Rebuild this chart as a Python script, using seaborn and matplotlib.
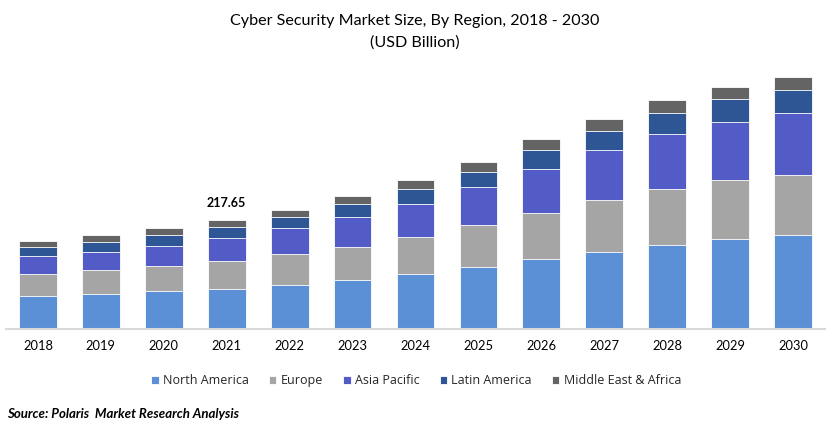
import numpy as np
import pandas as pd
import matplotlib
matplotlib.use("Agg")
import matplotlib.pyplot as plt
import seaborn as sns

# data (USD Billion)
years = ['2018', '2019', '2020', '2021', '2022', '2023', '2024',
         '2025', '2026', '2027', '2028', '2029', '2030']
north_america = [65.4, 69.4, 75.4, 80.85, 88.0, 98.0, 110.0, 124.0, 139.4, 154.6, 168.0, 180.0, 188.0]
europe = [44.6, 48.6, 50.6, 55.4, 62.0, 66.6, 74.0, 84.0, 93.2, 103.4, 112.0, 117.4, 120.6]
asia_pacific = [36.6, 36.6, 40.6, 46.0, 52.0, 58.8, 66.0, 76.0, 88.0, 100.0, 109.4, 117.2, 123.4]
latin_america = [17.4, 19.4, 20.6, 21.4, 22.6, 26.6, 29.4, 30.6, 37.4, 38.6, 42.6, 44.8, 46.6]
mea = [12.0, 14.0, 14.0, 14.0, 14.0, 16.0, 18.0, 19.4, 21.4, 23.4, 25.4, 25.2, 26.0]

regions = ['North America', 'Europe', 'Asia Pacific', 'Latin America', 'Middle East & Africa']
colors = ['#5B8FD6', '#A5A5A5', '#525BC6', '#2E5594', '#646464']

label_year = '2021'
label_text = '217.65'

df = pd.DataFrame({'year': years,
                   'North America': north_america,
                   'Europe': europe,
                   'Asia Pacific': asia_pacific,
                   'Latin America': latin_america,
                   'Middle East & Africa': mea})

# cumulative sums for stacking
cum = df[regions].cumsum(axis=1)

sns.set_style("white")
plt.rcParams['font.family'] = ['Lato', 'DejaVu Sans']

fig = plt.figure(figsize=(8.29, 4.28), dpi=100)
ax = fig.add_axes([0.0078, 0.2313, 0.9868, 0.6051])

# draw from the top segment down so each layer covers the one above
for reg, col in reversed(list(zip(regions, colors))):
    sns.barplot(x=df['year'], y=cum[reg], color=col, width=0.6,
                edgecolor='white', linewidth=0.6, saturation=1, ax=ax,
                label=reg)

ax.set_ylim(0, 518)
ax.set_xlim(-0.5, len(years) - 0.5)
ax.set_xlabel('')
ax.set_ylabel('')
ax.set_yticks([])
for s in ['top', 'right', 'left']:
    ax.spines[s].set_visible(False)
ax.spines['bottom'].set_color('#D9D9D9')
ax.spines['bottom'].set_linewidth(1.5)
ax.tick_params(axis='x', length=0, pad=8, labelsize=9.3, labelcolor='#000000')

# value label on 2021
i = years.index(label_year)
ax.annotate(label_text, (i, cum['Middle East & Africa'][i]), xytext=(0, 8),
            textcoords='offset points', ha='center', va='bottom',
            fontsize=9, fontweight='bold', color='#000000')

# legend in original order
handles, labels = ax.get_legend_handles_labels()
order = [labels.index(r) for r in regions]
fig.legend([handles[k] for k in order], regions, loc='center',
           bbox_to_anchor=(0.502, 0.11), ncol=5, frameon=False,
           handlelength=0.6, handleheight=0.6,
           handletextpad=0.35, columnspacing=1.6,
           prop={'family': 'Open Sans', 'size': 9})
if ax.get_legend():
    ax.get_legend().remove()

fig.text(0.5, 0.952, 'Cyber Security Market Size, By Region, 2018 - 2030',
         ha='center', va='center', fontsize=11.6, color='#000000')
fig.text(0.5, 0.900, '(USD Billion)', ha='center', va='center',
         fontsize=11.6, color='#000000')
fig.text(0.009, 0.033, 'Source: Polaris  Market Research Analysis',
         ha='left', va='center', fontsize=9.5, fontweight='bold',
         fontstyle='italic', color='#000000')

fig.savefig('out.png', dpi=100)
